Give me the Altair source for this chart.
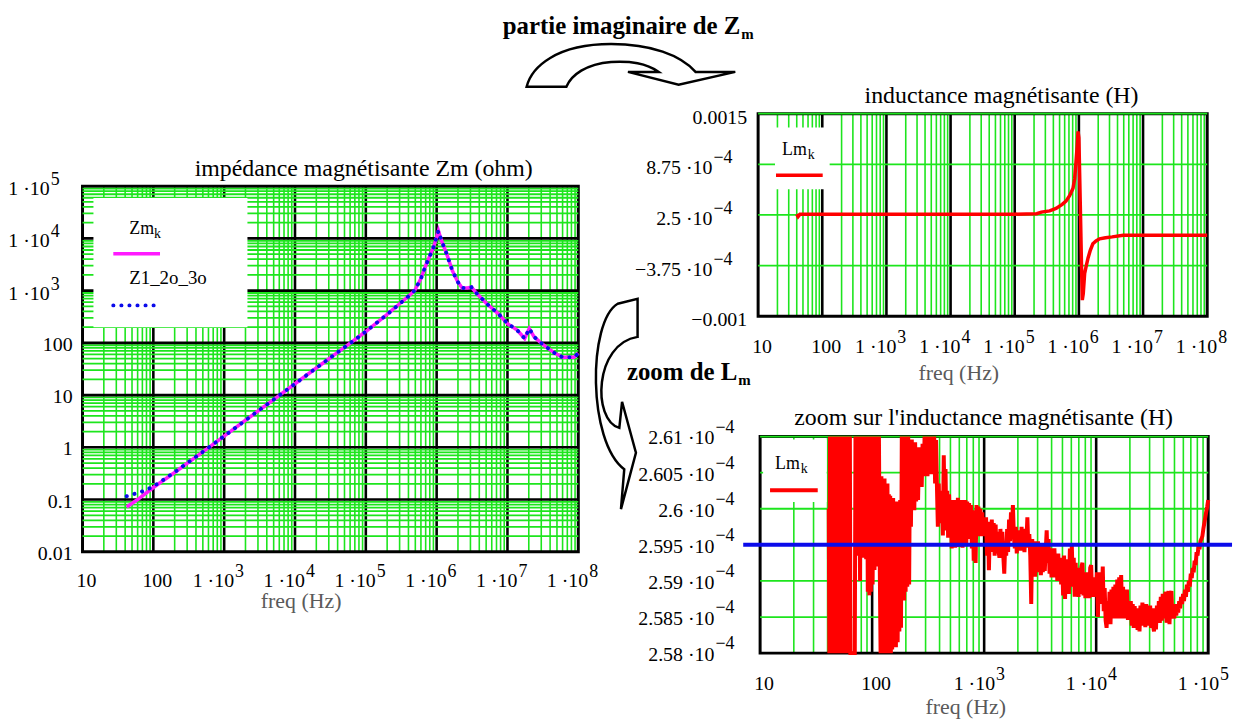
import pandas as pd
import altair as alt

FONT = "Liberation Serif, DejaVu Serif, serif"
GREEN = "#1de51d"
MAGENTA = "#ff1aff"
BLUE = "#0b0bea"
RED = "#ff0000"
GRAY = "#5a5a5a"

W, H = 1238, 714

# ---------------- left panel : impedance Zm (ohm) ----------------
ZM_F = [42, 60, 100, 200, 500, 1e3, 2e3, 5e3, 1e4, 2e4, 5e4, 1e5, 2e5, 3e5, 4e5, 4.9e5,
        6e5, 7e5, 8e5, 9e5, 1e6, 1.06e6, 1.15e6, 1.39e6, 1.67e6, 2.0e6, 2.28e6, 2.7e6,
        3.1e6, 3.73e6, 5.1e6, 7.4e6, 1e7, 1.37e7, 1.75e7, 2.03e7, 2.38e7, 3.05e7, 4.7e7,
        6e7, 8.7e7, 1e8]
ZM_V = [0.072, 0.1, 0.17, 0.33, 0.82, 1.64, 3.3, 8.2, 16.5, 33, 82, 165, 350, 560, 780, 1007,
        1700, 3000, 4600, 6700, 10500, 13900, 9700, 5000, 2400, 1450, 1130, 1120,
        1160, 870, 562, 363, 234, 175, 121, 188, 130, 97, 63,
        53, 53, 63]
Z1_F = [42, 50, 60, 75, 100, 140, 200, 500, 1e3, 2e3, 5e3, 1e4, 2e4, 5e4, 1e5, 2e5, 3e5, 4e5,
        4.9e5, 6e5, 7e5, 8e5, 9e5, 1e6, 1.06e6, 1.15e6, 1.39e6, 1.67e6, 2.0e6, 2.28e6, 2.7e6,
        3.1e6, 3.73e6, 5.1e6, 7.4e6, 1e7, 1.37e7, 1.75e7, 2.03e7, 2.38e7, 3.05e7, 4.7e7,
        6e7, 8.7e7, 1e8]
Z1_V = [0.116, 0.124, 0.134, 0.148, 0.178, 0.24, 0.335, 0.82, 1.64, 3.3, 8.2, 16.5, 33, 82, 165,
        350, 560, 780, 1007, 1700, 3000, 4600, 6700, 10500, 13900, 9700, 5000, 2400, 1450,
        1130, 1120, 1160, 870, 562, 363, 234, 175, 121, 188, 130, 97, 63, 53, 53, 63]

# ---------------- top right : Lm (units of 1e-4 H) ----------------
LM_F = [40, 42, 45, 60, 100, 1e3, 1e4, 1e5, 2.2e5, 2.6e5, 3.5e5, 4.4e5, 5.5e5, 6.3e5, 7.2e5,
        8.1e5, 8.6e5, 9.0e5, 9.4e5, 9.7e5, 1.0e6, 1.05e6, 1.1e6, 1.13e6, 1.17e6, 1.23e6,
        1.3e6, 1.39e6, 1.5e6, 1.65e6, 1.85e6, 2.1e6, 2.6e6, 3.3e6, 4.9e6, 1e7, 3e7, 1e8]
LM_V = [2.6, 2.3, 2.6, 2.6, 2.595, 2.595, 2.59, 2.6, 2.65, 2.85, 3.0, 3.3, 3.8, 4.2, 4.9,
        5.8, 7.0, 9.0, 11.0, 12.8, 12.0, 4.0, -4.0, -8.0, -7.2, -4.7,
        -3.8, -2.8, -1.9, -1.05, -0.7, -0.44, -0.3, -0.2, 0.0, 0.0, 0.0, 0.0]

# ---------------- bottom right : zoom on Lm (units of 1e-4 H) ----------------
ZOOM_F = [
    41, 41.5, 42, 42.6, 43.2, 43.8, 44.4, 45, 45.6, 46.3, 47, 47.7, 48.4, 49.1, 49.8, 50.5,
    51.3, 52.1, 52.9, 53.7, 54.5, 55.3, 56.1, 57, 57.9, 58.8, 59.7, 60.6, 61.5, 62.4, 63.3,
    64, 70, 71,
    72, 73, 74, 75, 76, 77, 78, 79, 80, 81, 82.5, 84, 85.5, 87, 88.5,
    90, 91.5, 93, 94.5, 96, 97.5, 99, 101, 103, 105, 107, 109, 111, 113, 115, 117,
    119, 121, 123, 125, 127, 129, 131, 133, 135, 137, 139,
    141, 143, 145, 147, 149,
    151, 154, 157, 160, 163, 166, 169, 172, 175, 178, 181,
    184, 187, 190, 193, 196, 199, 202, 206, 210, 214, 218, 222,
    226, 230, 234, 238, 242, 247, 252, 257, 262,
    267, 272, 277, 282, 288, 294, 300, 306,
    312, 318, 324, 330, 337, 344, 351, 358, 365, 372, 379,
    386, 393, 400, 407, 414,
    421, 428, 436, 444, 452, 460, 468,
    477, 486, 495, 504, 513, 522, 531, 541, 551,
    561, 572, 583, 594, 605, 617, 629, 641, 653, 666, 679, 692, 706, 720, 734, 748,
    762, 777, 792, 807, 823, 839,
    855, 872, 889, 907, 925, 943, 962, 981, 1000,
    1020, 1040, 1061, 1082, 1103, 1125,
    1147, 1170, 1193, 1217, 1241, 1266, 1291, 1317, 1343, 1370, 1397, 1425, 1453,
    1482, 1512, 1542, 1573,
    1604, 1636, 1669, 1702, 1736, 1771, 1806, 1842,
    1879, 1917, 1955, 1994, 2034, 2075,
    2116, 2158, 2201, 2245, 2290, 2336, 2383, 2431, 2480, 2530,
    2580, 2632, 2685,
    2739, 2794, 2850, 2907, 2965, 3024, 3085, 3147, 3210, 3274, 3340, 3407, 3475, 3545,
    3616, 3688, 3762,
    3837, 3914, 3993, 4073, 4155, 4238, 4323, 4410, 4498, 4588, 4680, 4774, 4870, 4968,
    5068, 5170, 5274, 5380, 5488, 5598, 5710, 5825, 5942, 6061, 6183, 6307, 6434, 6563,
    6695, 6829, 6966, 7106, 7249, 7395, 7543, 7695, 7849, 8007, 8168, 8332, 8499, 8670,
    8844, 9021, 9202, 9387, 9576, 9768, 9964,
    10160, 10370, 10580, 10790, 11000, 11220, 11450, 11680, 11910, 12150, 12390, 12640,
    12900, 13160,
    13420, 13690, 13970, 14250, 14530, 14830, 15120, 15430, 15740, 16050, 16380, 16710,
    17040,
    17380, 17730, 18090, 18450, 18820, 19200, 19590, 19980,
    20380, 20790, 21200, 21630, 22070, 22510, 22960, 23420, 23890, 24370, 24860, 25360,
    25870, 26390, 26920, 27460, 28010, 28570, 29140, 29730, 30330, 30940, 31560, 32190,
    32840, 33500, 34170, 34850, 35550, 36270,
    37000, 37740, 38500, 39270, 40060, 40860, 41690, 42520, 43380, 44250, 45140, 46040,
    46970, 47910, 48870, 49850, 50850, 51880, 52920, 53980, 55070,
    56170, 57300, 58450, 59620, 60820, 62040, 63290, 64560, 65850, 67170, 68520, 69890,
    71300,
    72730, 74190, 75680, 77200, 78750, 80330, 81940, 83590, 85270, 86980,
    88730, 90510, 92330, 94180, 96070, 98000, 100000]
ZOOM_L = [
    2.600, 2.575, 2.616, 2.572, 2.617, 2.574, 2.616, 2.571, 2.618, 2.573, 2.616, 2.572, 2.617,
    2.574, 2.615, 2.571, 2.617, 2.573, 2.616, 2.572, 2.618, 2.574, 2.616, 2.571, 2.617, 2.573,
    2.616, 2.572, 2.618, 2.574, 2.615,
    2.56, 2.56, 2.62,
    2.594, 2.618, 2.5935, 2.616, 2.5942, 2.617, 2.590, 2.618, 2.5938, 2.616, 2.5932, 2.617,
    2.5945, 2.616, 2.593,
    2.617, 2.5885, 2.616, 2.588, 2.617, 2.5885, 2.615, 2.5895, 2.617, 2.5915, 2.616, 2.592,
    2.615, 2.5925, 2.614, 2.592,
    2.574, 2.6045, 2.575, 2.604, 2.576, 2.6042, 2.575, 2.603, 2.576, 2.6035, 2.577,
    2.602, 2.576, 2.6018, 2.577, 2.6015,
    2.5805, 2.6015, 2.5812, 2.601, 2.5808, 2.6005, 2.5815, 2.601, 2.583, 2.6012, 2.5835,
    2.612, 2.589, 2.6115, 2.5873, 2.612, 2.5885, 2.611, 2.5892, 2.6105, 2.5895, 2.609, 2.5975,
    2.6096, 2.6002, 2.6088, 2.5998, 2.6092, 2.601, 2.6085, 2.6012, 2.6075,
    2.6035, 2.6085, 2.603, 2.609, 2.6045, 2.6105, 2.6055, 2.611,
    2.6045, 2.6115, 2.606, 2.6112, 2.6048, 2.6115, 2.606, 2.6105, 2.6035, 2.6095, 2.603,
    2.5975, 2.6035, 2.5982, 2.6025, 2.598,
    2.6005, 2.5963, 2.6074, 2.5995, 2.6055, 2.597, 2.6025,
    2.596, 2.602, 2.5968, 2.6008, 2.5945, 2.6012, 2.5965, 2.6005, 2.5946,
    2.6012, 2.5955, 2.6015, 2.5947, 2.6008, 2.5958, 2.6012, 2.5946, 2.6005, 2.5955, 2.6012,
    2.5948, 2.601, 2.5958, 2.6008, 2.5962,
    2.6005, 2.5945, 2.5998, 2.5928, 2.5985, 2.5925,
    2.6005, 2.5965, 2.6003, 2.5962, 2.600, 2.5968, 2.5995, 2.5962, 2.5985,
    2.5965, 2.5988, 2.5935, 2.5982, 2.5915, 2.5975,
    2.594, 2.5985, 2.5945, 2.598, 2.5935, 2.5978, 2.5938, 2.5968, 2.5942, 2.5932, 2.5972,
    2.5942, 2.5968,
    2.5935, 2.591, 2.5952, 2.5935,
    2.5972, 2.594, 2.5985, 2.5955, 2.5995, 2.5975, 2.6005, 2.5962,
    2.5945, 2.5975, 2.5938, 2.597, 2.5942, 2.5968,
    2.5942, 2.5975, 2.5942, 2.597, 2.594, 2.5972, 2.5955, 2.5988, 2.5946, 2.5965,
    2.5935, 2.5868, 2.5958,
    2.5915, 2.5955, 2.5906, 2.5948, 2.5912, 2.5955, 2.5915, 2.595, 2.5908, 2.5945, 2.5912,
    2.5952, 2.5914, 2.5942,
    2.597, 2.5925, 2.5958,
    2.591, 2.5945, 2.5905, 2.594, 2.5908, 2.5945, 2.5905, 2.5935, 2.590, 2.5938, 2.5902,
    2.5932, 2.5895, 2.593,
    2.588, 2.5935, 2.5875, 2.593, 2.5885, 2.5928, 2.5882, 2.5945, 2.5892, 2.595, 2.5895,
    2.5932, 2.5878, 2.5925, 2.5885, 2.5918, 2.5878, 2.5915, 2.5882, 2.592, 2.5925, 2.588,
    2.5912, 2.5876, 2.5908, 2.5882, 2.5912, 2.5876, 2.5918, 2.5922, 2.5878, 2.5905, 2.5885,
    2.5898, 2.5878,
    2.5912, 2.585, 2.5905, 2.5868, 2.5912, 2.5875, 2.592, 2.5858, 2.589, 2.5845, 2.5835,
    2.5872, 2.5845, 2.5885,
    2.584, 2.5888, 2.5848, 2.5892, 2.585, 2.5895, 2.5848, 2.5902, 2.5852, 2.5905, 2.5848,
    2.5908, 2.5855,
    2.5892, 2.5848, 2.5885, 2.5852, 2.5888, 2.5846, 2.587, 2.585,
    2.5872, 2.5838, 2.5868, 2.5835, 2.5865, 2.5838, 2.5862, 2.5832, 2.5858, 2.583, 2.5866,
    2.5838, 2.587, 2.5842, 2.5865, 2.5836, 2.5868, 2.5845, 2.5862, 2.5838, 2.5866, 2.5835,
    2.5862, 2.5838, 2.583, 2.5862, 2.5833, 2.5866, 2.5843, 2.5872,
    2.5842, 2.5878, 2.5845, 2.5882, 2.5848, 2.5872, 2.5885, 2.5842, 2.5878, 2.5886, 2.584,
    2.588, 2.5886, 2.5848, 2.5865, 2.5848, 2.5868, 2.5852, 2.5866, 2.5856, 2.5872,
    2.5862, 2.5878, 2.5868, 2.5882, 2.5872, 2.5888, 2.5878, 2.5895, 2.5885, 2.590, 2.5892,
    2.591, 2.5904,
    2.5918, 2.5912, 2.5928, 2.5922, 2.594, 2.5935, 2.5948, 2.5944, 2.5955, 2.5958,
    2.5962, 2.5972, 2.598, 2.5988, 2.5996, 2.6003, 2.6012]
BLUE_REF = [2.595]

# ---------------- tick values and labels (main part + raised exponent) ----------------
XL_VALS = [10, 100, 1e3, 1e4, 1e5, 1e6, 1e7, 1e8]
XL_MAIN = ["10", "100", "1 ·10", "1 ·10", "1 ·10", "1 ·10", "1 ·10", "1 ·10"]
XL_SUP = ["", "", "3", "4", "5", "6", "7", "8"]
YL_VALS = [0.01, 0.1, 1, 10, 100, 1e3, 1e4, 1e5]
YL_MAIN = ["0.01", "0.1", "1", "10", "100", "1 ·10", "1 ·10", "1 ·10"]
YL_SUP = ["", "", "", "", "", "3", "4", "5"]
YT_VALS = [-10, -3.75, 2.5, 8.75, 15]
YT_MAIN = ["−0.001", "−3.75 ·10", "2.5 ·10", "8.75 ·10", "0.0015"]
YT_SUP = ["", "−4", "−4", "−4", ""]
XB_VALS = [10, 100, 1e3, 1e4, 1e5]
XB_MAIN = ["10", "100", "1 ·10", "1 ·10", "1 ·10"]
XB_SUP = ["", "", "3", "4", "5"]
YB_VALS = [2.58, 2.585, 2.59, 2.595, 2.6, 2.605, 2.61]
YB_MAIN = ["2.58 ·10", "2.585 ·10", "2.59 ·10", "2.595 ·10", "2.6 ·10", "2.605 ·10",
           "2.61 ·10"]
YB_SUP = ["−4", "−4", "−4", "−4", "−4", "−4", "−4"]

# grid lines
MINOR_X8 = [m * 10.0 ** k for k in range(1, 8) for m in range(2, 10)]
MAJOR_X8 = [100, 1e3, 1e4, 1e5, 1e6, 1e7]
MINOR_YL = [m * 10.0 ** k for k in range(-2, 5) for m in range(2, 10)]
MAJOR_YL = [0.1, 1, 10, 100, 1e3, 1e4]
GREEN_YT = [15, 8.75, 2.5, -3.75]
MINOR_X5 = [m * 10.0 ** k for k in range(1, 5) for m in range(2, 10)]
MAJOR_X5 = [100, 1e3, 1e4]
GREEN_YB = [2.585, 2.59, 2.595, 2.6, 2.605, 2.61]

ARROW_TOP = ("M-1.05,0.22 C-1.0,0.02 -0.75,-0.21 -0.2,-0.21 C0.2,-0.21 0.5,-0.1 0.65,0.07 "
             "L1.05,0.07 L0.48,0.2 L-0.03,0.07 L0.28,0.07 C0.15,-0.02 0.0,-0.04 -0.2,-0.03 "
             "C-0.45,-0.01 -0.6,0.1 -0.65,0.22 Z")
ARROW_ZOOM = ("M0.015,-0.915 L0.197,-0.961 L0.197,-0.612 C-0.2,-0.55 -0.22,0.15 0.03,0.221 "
              "L0.055,-0.018 L0.182,0.448 L0.045,0.964 L0.075,0.6 "
              "C-0.26,0.35 -0.26,-0.75 0.015,-0.915 Z")

ONE = pd.DataFrame({"o": [0]})

# panel rectangles (x0, x1, y0, y1) in chart pixels
PL = (75, 574, 177, 545)
PT = (755, 1207, 104, 308)
PB = (757, 1208, 429, 647)


def vdf(vals):
    return pd.DataFrame({"v": [float(v) for v in vals]})


def split_labels(vals, mains, sups):
    plain = pd.DataFrame({"v": [float(v) for v, s in zip(vals, sups) if not s],
                          "t": [m for m, s in zip(mains, sups) if not s]})
    expo = pd.DataFrame({"v": [float(v) for v, s in zip(vals, sups) if s],
                         "t": [m for m, s in zip(mains, sups) if s],
                         "s": [s for s in sups if s]})
    return plain, expo


def label_text(size=20, **kw):
    return dict(font=FONT, fontSize=size, color="black", baseline="alphabetic", **kw)


def x_labels(P, xs, vals, mains, sups, below, dx_exp, dx_plain=4, raise_=10):
    plain, expo = split_labels(vals, mains, sups)
    X = alt.X("v:Q", scale=xs, axis=None)
    y = P[3] + below
    out = []
    if len(plain):
        out.append(alt.Chart(plain).mark_text(**label_text(align="center", dx=dx_plain)).encode(
            x=X, y=alt.value(y), text="t:N"))
    if len(expo):
        out.append(alt.Chart(expo).mark_text(**label_text(align="right", dx=dx_exp)).encode(
            x=X, y=alt.value(y), text="t:N"))
        out.append(alt.Chart(expo).mark_text(**label_text(size=18, align="left", dx=dx_exp + 1)).encode(
            x=X, y=alt.value(y - raise_), text="s:N"))
    return out


def y_labels(P, ys, vals, mains, sups, gap_plain, gap_exp, dy_plain, dy_exp, raise_):
    plain, expo = split_labels(vals, mains, sups)
    Y = alt.Y("v:Q", scale=ys, axis=None)
    out = []
    if len(plain):
        out.append(alt.Chart(plain).mark_text(**label_text(align="right", dy=dy_plain)).encode(
            y=Y, x=alt.value(P[0] - gap_plain), text="t:N"))
    if len(expo):
        out.append(alt.Chart(expo).mark_text(**label_text(align="right", dy=dy_exp)).encode(
            y=Y, x=alt.value(P[0] - gap_exp), text="t:N"))
        out.append(alt.Chart(expo).mark_text(**label_text(size=18, align="left", dy=dy_exp - raise_)).encode(
            y=Y, x=alt.value(P[0] - gap_exp + 1), text="s:N"))
    return out


def box(x1, x2, y1, y2, **kw):
    return alt.Chart(ONE).mark_rect(**kw).encode(
        x=alt.value(x1), x2=alt.value(x2), y=alt.value(y1), y2=alt.value(y2))


def txt(s, x, y, size=18, weight="normal", align="left", color="black"):
    return alt.Chart(ONE).mark_text(text=s, font=FONT, fontSize=size, fontWeight=weight,
                                    align=align, baseline="alphabetic", color=color).encode(
        x=alt.value(x), y=alt.value(y))


def sample(x1, x2, y, color, width, dash=None):
    kw = dict(color=color, strokeWidth=width)
    if dash:
        kw.update(strokeDash=dash, strokeCap="round")
    return alt.Chart(ONE).mark_rule(**kw).encode(x=alt.value(x1), x2=alt.value(x2), y=alt.value(y))


def panel(P, xs, ys, minor_x, major_x, green_y, major_y, data_layers, extra, labels):
    x0, x1, y0, y1 = P
    X = alt.X("v:Q", scale=xs, axis=None)
    Y = alt.Y("v:Q", scale=ys, axis=None)
    layers = [
        alt.Chart(vdf(minor_x)).mark_rule(color=GREEN, strokeWidth=1.6).encode(
            x=X, y=alt.value(y0), y2=alt.value(y1)),
        alt.Chart(vdf(major_x)).mark_rule(color="black", strokeWidth=2.6).encode(
            x=X, y=alt.value(y0), y2=alt.value(y1)),
        box(x0, x1, y0, y1, fillOpacity=0, stroke="black", strokeWidth=3),
        alt.Chart(vdf(green_y)).mark_rule(color=GREEN, strokeWidth=1.8).encode(
            y=Y, x=alt.value(x0), x2=alt.value(x1)),
    ]
    if major_y:
        layers.append(alt.Chart(vdf(major_y)).mark_rule(color="black", strokeWidth=2.6).encode(
            y=Y, x=alt.value(x0), x2=alt.value(x1)))
    layers += extra
    for df, mark, yfield in data_layers:
        layers.append(alt.Chart(df).mark_line(**mark).encode(
            x=alt.X("f:Q", scale=xs, axis=None), y=alt.Y(yfield, scale=ys, axis=None)))
    layers += labels
    return alt.layer(*layers)


# ---------------- left panel ----------------
xsL = alt.Scale(type="log", domain=[10, 1e8], nice=False, range=[PL[0], PL[1]])
ysL = alt.Scale(type="log", domain=[0.01, 1e5], nice=False, range=[PL[3], PL[2]])

left = panel(
    PL, xsL, ysL, MINOR_X8, MAJOR_X8, MINOR_YL, MAJOR_YL,
    [(pd.DataFrame({"f": ZM_F, "z": ZM_V}), dict(color=MAGENTA, strokeWidth=3.5), "z:Q"),
     (pd.DataFrame({"f": Z1_F, "z": Z1_V}),
      dict(color=BLUE, strokeWidth=4, strokeDash=[0.1, 8], strokeCap="round"), "z:Q")],
    [box(86, 241, 189, 319, color="white"),
     txt("Zm", 122, 225), txt("k", 147, 229, size=14),
     sample(106, 153, 245, MAGENTA, 3.5),
     txt("Z1_2o_3o", 122, 275, size=19),
     sample(106, 153, 297, BLUE, 4, dash=[0.1, 8])],
    x_labels(PL, xsL, XL_VALS, XL_MAIN, XL_SUP, 35, 10)
    + y_labels(PL, ysL, YL_VALS, YL_MAIN, YL_SUP, 10, 33, 8, 9, 10)
    + [txt("freq (Hz)", 295, 602, size=22, align="center", color=GRAY)],
)

# ---------------- top right panel ----------------
xsT = alt.Scale(type="log", domain=[10, 1e8], nice=False, range=[PT[0], PT[1]])
ysT = alt.Scale(type="linear", domain=[-10, 15], nice=False, zero=False, range=[PT[3], PT[2]])

top = panel(
    PT, xsT, ysT, MINOR_X8, MAJOR_X8, GREEN_YT, [],
    [(pd.DataFrame({"f": LM_F, "l": LM_V}), dict(color=RED, strokeWidth=3.5), "l:Q")],
    [box(772, 827, 118, 180, color="white"),
     txt("Lm", 779, 146), txt("k", 805, 150, size=14),
     sample(773, 820, 166, RED, 3.5)],
    x_labels(PT, xsT, XL_VALS, XL_MAIN, XL_SUP, 37, 10)
    + y_labels(PT, ysT, YT_VALS, YT_MAIN, YT_SUP, 11, 46, 10, 10, 11)
    + [txt("freq (Hz)", 957, 372, size=22, align="center", color=GRAY)],
)

# ---------------- bottom right panel ----------------
xsB = alt.Scale(type="log", domain=[10, 1e5], nice=False, range=[PB[0], PB[1]])
ysB = alt.Scale(type="linear", domain=[2.58, 2.61], nice=False, zero=False, clamp=True,
                range=[PB[3], PB[2]])

bottom = panel(
    PB, xsB, ysB, MINOR_X5, MAJOR_X5, GREEN_YB, [],
    [(pd.DataFrame({"f": ZOOM_F, "l": ZOOM_L}), dict(color=RED, strokeWidth=4), "l:Q")],
    [box(760, 824, 432, 495, color="white"),
     txt("Lm", 772, 462), txt("k", 798, 466, size=14),
     sample(767, 815, 483, RED, 4)],
    [alt.Chart(vdf(BLUE_REF)).mark_rule(color=BLUE, strokeWidth=4).encode(
        y=alt.Y("v:Q", scale=ysB, axis=None), x=alt.value(740), x2=alt.value(1232))]
    + x_labels(PB, xsB, XB_VALS, XB_MAIN, XB_SUP, 37, 11)
    + y_labels(PB, ysB, YB_VALS, YB_MAIN, YB_SUP, 46, 46, 8, 8, 12)
    + [txt("freq (Hz)", 964, 708, size=22, align="center", color=GRAY)],
)

# ---------------- titles and annotations ----------------
decor = alt.layer(
    txt("impédance magnétisante Zm  (ohm)", 358, 167, size=24, align="center"),
    txt("inductance magnétisante (H)", 1000, 93, size=24, align="center"),
    txt("zoom sur l'inductance magnétisante (H)", 982, 417, size=24, align="center"),
    txt("partie imaginaire de Z", 737, 24, size=25, weight="bold", align="right"),
    txt("m", 738, 29, size=15, weight="bold"),
    alt.Chart(ONE).mark_point(shape=ARROW_TOP, size=40000, filled=True, fill="white",
                              stroke="black", strokeWidth=2.5, opacity=1).encode(
        x=alt.value(627), y=alt.value(55)),
    alt.Chart(ONE).mark_point(shape=ARROW_ZOOM, size=48400, filled=True, fill="white",
                              stroke="black", strokeWidth=2.5, opacity=1).encode(
        x=alt.value(612), y=alt.value(396)),
    txt("zoom de L", 734, 372, size=25, weight="bold", align="right"),
    txt("m", 735, 377, size=15, weight="bold"),
)

chart = alt.layer(left, top, bottom, decor).resolve_scale(
    x="independent", y="independent"
).properties(
    width=W, height=H, autosize=alt.AutoSizeParams(type="none"), padding=0
).configure_view(strokeOpacity=0)

chart.save("out.html", embed_options={"renderer": "svg", "actions": False})
